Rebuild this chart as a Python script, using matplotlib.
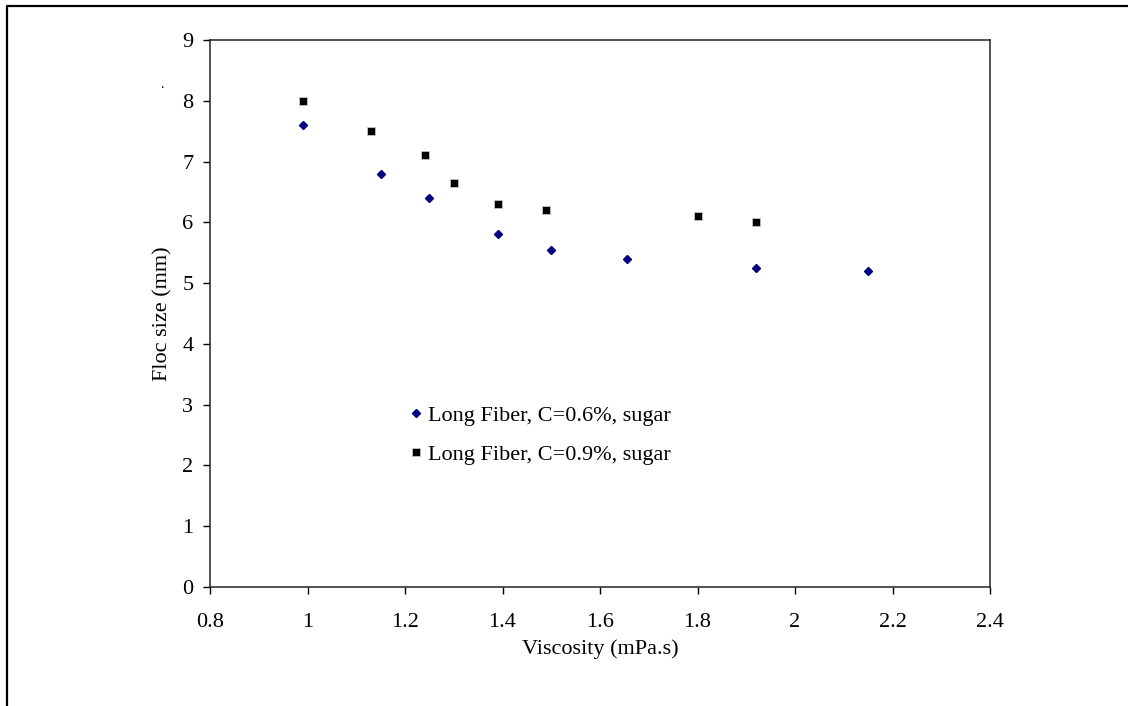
import matplotlib
matplotlib.use("Agg")
import matplotlib.pyplot as plt
from matplotlib.lines import Line2D

# data
visc_06 = [0.99, 1.15, 1.25, 1.39, 1.50, 1.655, 1.92, 2.15]
floc_06 = [7.6, 6.8, 6.4, 5.8, 5.54, 5.4, 5.25, 5.2]
visc_09 = [0.99, 1.13, 1.24, 1.30, 1.39, 1.49, 1.80, 1.92]
floc_09 = [8.0, 7.5, 7.1, 6.65, 6.3, 6.2, 6.1, 6.0]
labels = ["Long Fiber, C=0.6%, sugar", "Long Fiber, C=0.9%, sugar"]
xticks = [0.8, 1, 1.2, 1.4, 1.6, 1.8, 2, 2.2, 2.4]
yticks = list(range(10))

plt.rcParams['font.family'] = ['Liberation Serif', 'DejaVu Serif']
plt.rcParams['font.size'] = 16

fig = plt.figure(figsize=(11.28, 7.06), dpi=100)
ax = fig.add_axes([0.1862, 0.1686, 0.8777 - 0.1862, 0.9433 - 0.1686])

ax.plot(visc_06, floc_06, linestyle='none', marker='D', markersize=4.4,
        color='#000080', label=labels[0])
ax.plot(visc_09, floc_09, linestyle='none', marker='s', markersize=5.5,
        color='black', markeredgecolor='#d0d0d0', markeredgewidth=0.5, label=labels[1])

ax.set_xlim(0.8, 2.4)
ax.set_ylim(0, 9)
ax.set_xticks(xticks)
ax.set_xticklabels([f"{t:g}" for t in xticks])
ax.set_yticks(yticks)
for s in ax.spines.values():
    s.set_linewidth(1.1)
    s.set_color('#222222')
ax.tick_params(direction='out', length=5, width=1)
ax.tick_params(axis='x', pad=14)
ax.tick_params(axis='y', pad=7)

ax.set_xlabel("Viscosity (mPa.s)", labelpad=5)
ax.set_ylabel("Floc size (mm)", labelpad=7)

ax.legend(loc='upper left', bbox_to_anchor=(0.240, 0.348), frameon=False,
          handletextpad=0.1, handlelength=0.9, labelspacing=0.82, borderaxespad=0)

fig.text(162 / 1128, 1 - 85 / 706, ".", fontsize=10, ha='center', va='center')

# outer frame (left and top edges visible)
fig.add_artist(Line2D([7 / 1128, 7 / 1128, 1.0], [0.0, 1 - 6 / 706, 1 - 6 / 706],
                      transform=fig.transFigure, color='black', linewidth=1.6))

plt.savefig("out.png", dpi=100)
